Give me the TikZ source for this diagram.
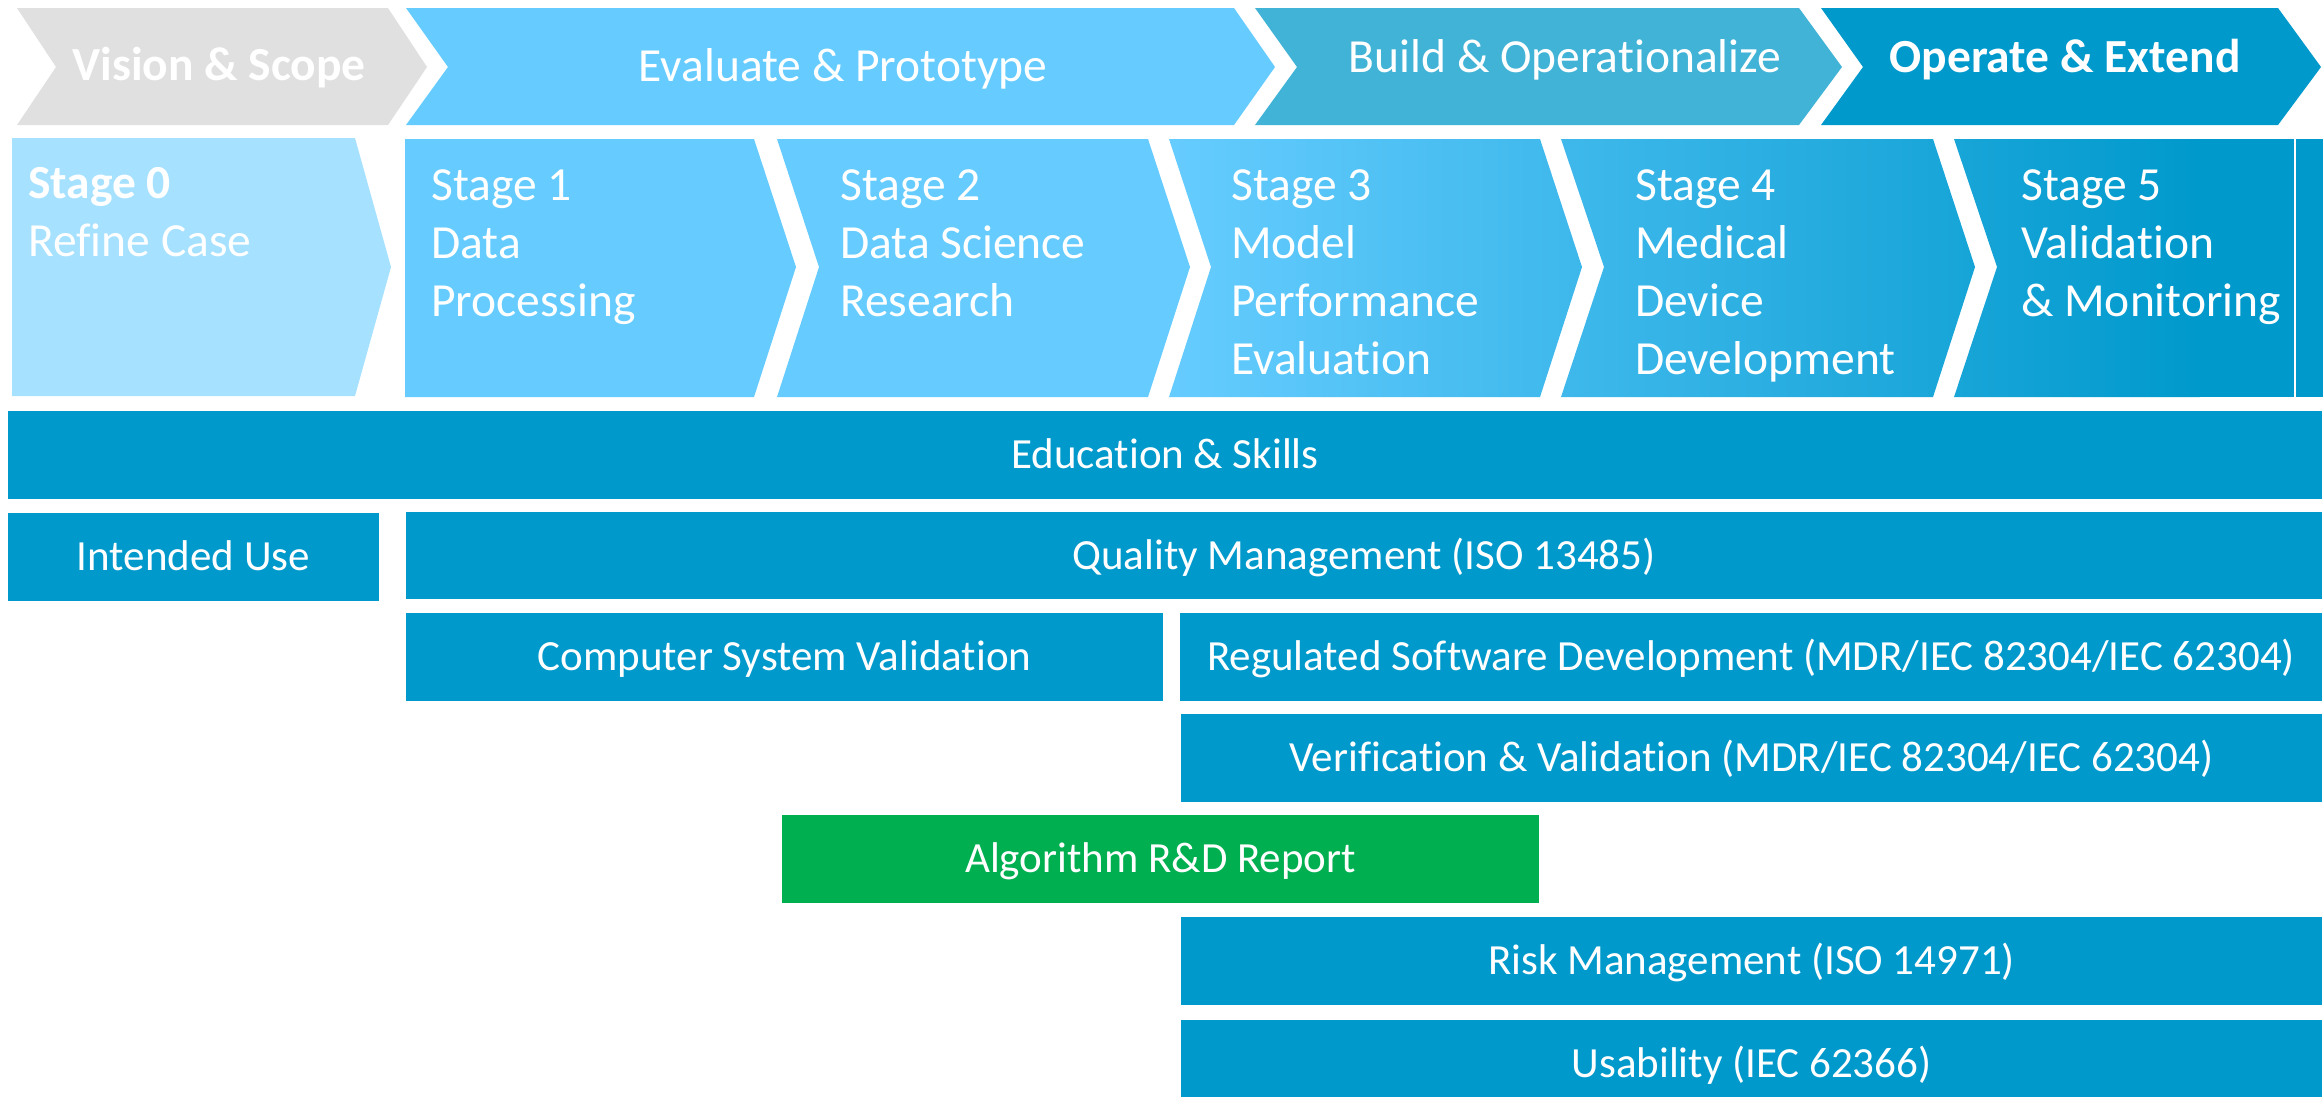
\documentclass[tikz,border=0pt]{standalone}
\usepackage{fontspec}
\setmainfont[Ligatures={NoCommon,NoContextual}]{Carlito}
\definecolor{cgray}{HTML}{E0E0E0}
\definecolor{cevl}{HTML}{66CCFF}
\definecolor{cbuild}{HTML}{41B3D7}
\definecolor{cteal}{HTML}{0099CC}
\definecolor{cst0}{HTML}{A6E1FF}
\definecolor{cgreen}{HTML}{00B050}
\begin{document}
\begin{tikzpicture}[x=1pt,y=-1pt,
  bar/.style={fill=cteal, draw=none, inner sep=0pt, text=white,
    font=\fontsize{43}{52}\selectfont, text height=27.2pt, text depth=0pt},
  stagetxt/.style={text=white, font=\fontsize{47.5}{58}\selectfont, anchor=base west, inner sep=0pt},
  bantxt/.style={text=white, font=\fontsize{47.5}{58}\selectfont, anchor=base, inner sep=0pt}]
\useasboundingbox[fill=white] (0,0) rectangle (2323,1096);

% ---- top banner chevrons
\fill[cgray]  (17,8) -- (388,8) -- (427,67) -- (388,125) -- (17,125) -- (56,67) -- cycle;
\fill[cevl]   (406,8) -- (1234,8) -- (1275,67) -- (1234,125) -- (406,125) -- (448,67) -- cycle;
\fill[cbuild] (1255,8) -- (1799,8) -- (1842,67) -- (1799,125) -- (1255,125) -- (1297,67) -- cycle;
\fill[cteal]  (1821,8) -- (2278,8) -- (2321,67) -- (2278,125) -- (1821,125) -- (1863,67) -- cycle;

\node[bantxt] (vis) at (219,80) {\bfseries Vision \& Scope};
\node[bantxt] (evp) at (843,81) {Evaluate \& Prototype};
\node[bantxt] (bop) at (1565,72) {Build \& Operationalize};
\node[bantxt] (oex) at (2065,72) {\bfseries Operate \& Extend};

% ---- stage chevrons
\fill[cst0] (12,138) -- (355,138) -- (391,267) -- (355,396) -- (12,396) -- cycle;
\fill[cevl] (405,139) -- (754,139) -- (796,267) -- (754,397) -- (405,397) -- cycle;
\fill[cevl] (777,139) -- (1148,139) -- (1190,267) -- (1148,397) -- (777,397) -- (819,267) -- cycle;
\begin{scope}
  \clip (1169,139) -- (1540,139) -- (1582,267) -- (1540,397) -- (1169,397) -- (1211,267) -- cycle
        (1561,139) -- (1933,139) -- (1975,267) -- (1933,397) -- (1561,397) -- (1604,267) -- cycle
        (1954,139) -- (2323,139) -- (2323,397) -- (1954,397) -- (1997,267) -- cycle;
  \shade[left color=cevl, right color=cteal] (1169,139) rectangle (2200,397);
  \fill[cteal] (2199,139) rectangle (2323,397);
\end{scope}
\draw[white, line width=2pt] (2295,139) -- (2295,397);

\node[stagetxt] (s0) at (28,198) {\begin{tabular}[t]{@{}l@{}}\bfseries Stage 0\\Refine Case\end{tabular}};
\node[stagetxt] (s1) at (431,200) {\begin{tabular}[t]{@{}l@{}}Stage 1\\Data\\Processing\end{tabular}};
\node[stagetxt] (s2) at (840,200) {\begin{tabular}[t]{@{}l@{}}Stage 2\\Data Science\\Research\end{tabular}};
\node[stagetxt] (s3) at (1231,200) {\begin{tabular}[t]{@{}l@{}}Stage 3\\Model\\Performance\\Evaluation\end{tabular}};
\node[stagetxt] (s4) at (1635,200) {\begin{tabular}[t]{@{}l@{}}Stage 4\\Medical\\Device\\Development\end{tabular}};
\node[stagetxt] (s5) at (2021,200) {\begin{tabular}[t]{@{}l@{}}Stage 5\\Validation\\\& Monitoring\end{tabular}};

% ---- bars
\node[bar, minimum width=2314, minimum height=88] (edu) at (1165,455) {Education \& Skills};
\node[bar, minimum width=371, minimum height=88] (int) at (193.5,557) {Intended Use};
\node[bar, minimum width=1916, minimum height=87] (qm) at (1364,555.5) {Quality Management (ISO 13485)};
\node[bar, minimum width=757, minimum height=88] (csv) at (784.5,657) {Computer System Validation};
\node[bar, minimum width=1142, minimum height=88] (rsd) at (1751,657) {Regulated Software Development (MDR/IEC 82304/IEC 62304)};
\node[bar, minimum width=1141, minimum height=88] (vv) at (1751.5,758) {Verification \& Validation (MDR/IEC 82304/IEC 62304)};
\node[bar, fill=cgreen, minimum width=757, minimum height=88] (alg) at (1160.5,859) {Algorithm R\&D Report};
\node[bar, minimum width=1141, minimum height=88] (risk) at (1751.5,961) {Risk Management (ISO 14971)};
\node[bar, minimum width=1141, minimum height=88] (usa) at (1751.5,1064) {Usability (IEC 62366)};
\end{tikzpicture}
\end{document}
